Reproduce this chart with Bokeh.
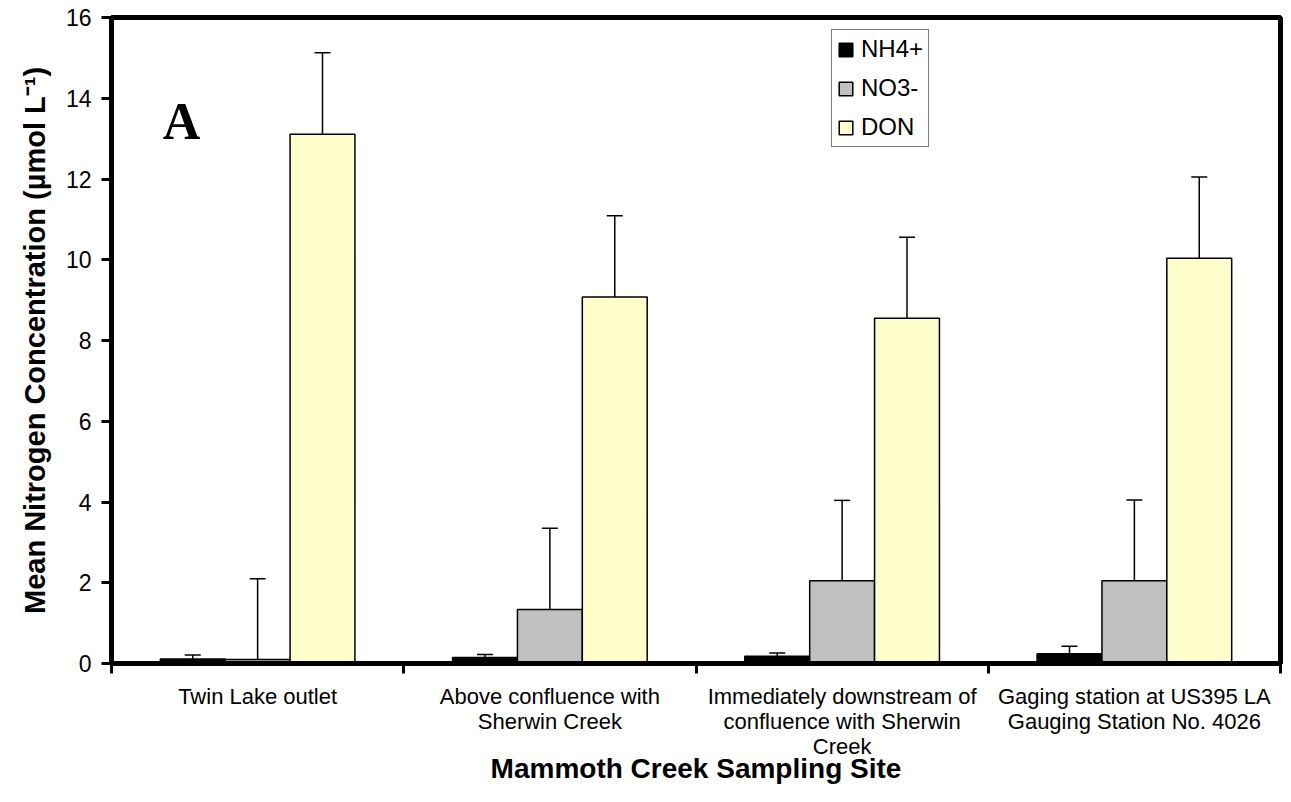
from bokeh.plotting import figure
from bokeh.models import FixedTicker, Whisker, ColumnDataSource, TeeHead, Label
from bokeh.embed import file_html
from bokeh.resources import INLINE

# ---- data ----
sites = [
    "Twin Lake outlet",
    "Above confluence with\nSherwin Creek",
    "Immediately downstream of\nconfluence with Sherwin\nCreek",
    "Gaging station at US395 LA\nGauging Station No. 4026",
]
series = ["NH4+", "NO3-", "DON"]
nh4 = [0.11, 0.15, 0.18, 0.24]
nh4_err = [0.10, 0.07, 0.08, 0.19]
no3 = [0.10, 1.34, 2.05, 2.05]
no3_err = [2.00, 2.01, 1.99, 2.00]
don = [13.11, 9.08, 8.55, 10.04]
don_err = [2.02, 2.01, 2.01, 2.01]
y_ticks = [0, 2, 4, 6, 8, 10, 12, 14, 16]
x_title = "Mammoth Creek Sampling Site"
y_title = "Mean Nitrogen Concentration (µmol L⁻¹)"

colors = ["#000000", "#C0C0C0", "#FFFFCC"]
values = [nh4, no3, don]
errors = [nh4_err, no3_err, don_err]

FONT = "Liberation Sans"

p = figure(width=1283, height=786, x_range=(0, 4), y_range=(0, 16),
           output_backend="svg", toolbar_location=None,
           min_border_left=111, min_border_top=17, min_border_right=3,
           min_border_bottom=0)
p.background_fill_color = "white"
p.border_fill_color = "white"
p.xgrid.visible = False
p.ygrid.visible = False
p.outline_line_color = "black"
p.outline_line_width = 5

bar_w = 0.222
offsets = [-0.222, 0.0, 0.222]
for k in range(3):
    xs = [i + 0.5 + offsets[k] for i in range(len(sites))]
    p.vbar(x=xs, top=values[k], width=bar_w, bottom=0,
           fill_color=colors[k], line_color="black", line_width=1.5,
           legend_label=series[k])
    src = ColumnDataSource(dict(
        x=xs, lower=values[k],
        upper=[v + e for v, e in zip(values[k], errors[k])]))
    w = Whisker(source=src, base="x", lower="lower", upper="upper",
                line_color="black", line_width=1.5,
                upper_head=TeeHead(size=16, line_width=1.5, line_color="black"),
                lower_head=None)
    p.add_layout(w)

# x axis: labels at category centres, ticks at category boundaries
xa = p.xaxis[0]
xa.ticker = FixedTicker(ticks=[0.5, 1.5, 2.5, 3.5], minor_ticks=[0, 1, 2, 3, 4])
xa.major_label_overrides = {i + 0.5: s for i, s in enumerate(sites)}
xa.major_tick_line_color = None
xa.major_tick_out = 10
xa.major_tick_in = 0
xa.minor_tick_out = 10
xa.minor_tick_in = 0
xa.minor_tick_line_color = "black"
xa.minor_tick_line_width = 3
xa.major_label_standoff = 10
xa.major_label_text_font = FONT
xa.major_label_text_font_size = "22px"
xa.major_label_text_line_height = 1.0
xa.major_label_text_color = "black"
xa.axis_line_width = 5
xa.axis_line_color = "black"
xa.axis_label = x_title
xa.axis_label_text_font = FONT
xa.axis_label_text_font_size = "28px"
xa.axis_label_text_font_style = "bold"
xa.axis_label_text_color = "black"
xa.axis_label_standoff = -9

ya = p.yaxis[0]
ya.ticker = FixedTicker(ticks=y_ticks, minor_ticks=[])
ya.major_tick_out = 10
ya.major_tick_in = 0
ya.major_tick_line_width = 3
ya.major_tick_line_color = "black"
ya.major_label_standoff = 10
ya.major_label_text_font = FONT
ya.major_label_text_font_size = "23px"
ya.major_label_text_color = "black"
ya.axis_line_width = 5
ya.axis_line_color = "black"
ya.axis_label = y_title
ya.axis_label_text_font = FONT
ya.axis_label_text_font_size = "29px"
ya.axis_label_text_font_style = "bold"
ya.axis_label_text_color = "black"
ya.axis_label_standoff = 12

# panel letter
p.add_layout(Label(x=0.24, y=13.43, text="A", text_align="center",
                   text_baseline="alphabetic", text_font="Liberation Serif",
                   text_font_size="52px", text_font_style="bold",
                   text_color="black"))

lg = p.legend[0]
lg.location = (720, 516)
lg.margin = 0
lg.padding = 5
lg.spacing = 11
lg.border_line_color = "black"
lg.border_line_width = 1
lg.background_fill_color = "white"
lg.background_fill_alpha = 1
lg.label_text_font = FONT
lg.label_text_font_size = "24px"
lg.label_text_color = "black"
lg.glyph_width = 17
lg.glyph_height = 17
lg.label_height = 27
lg.label_standoff = 7

open("out.html", "w").write(file_html(p, INLINE))
